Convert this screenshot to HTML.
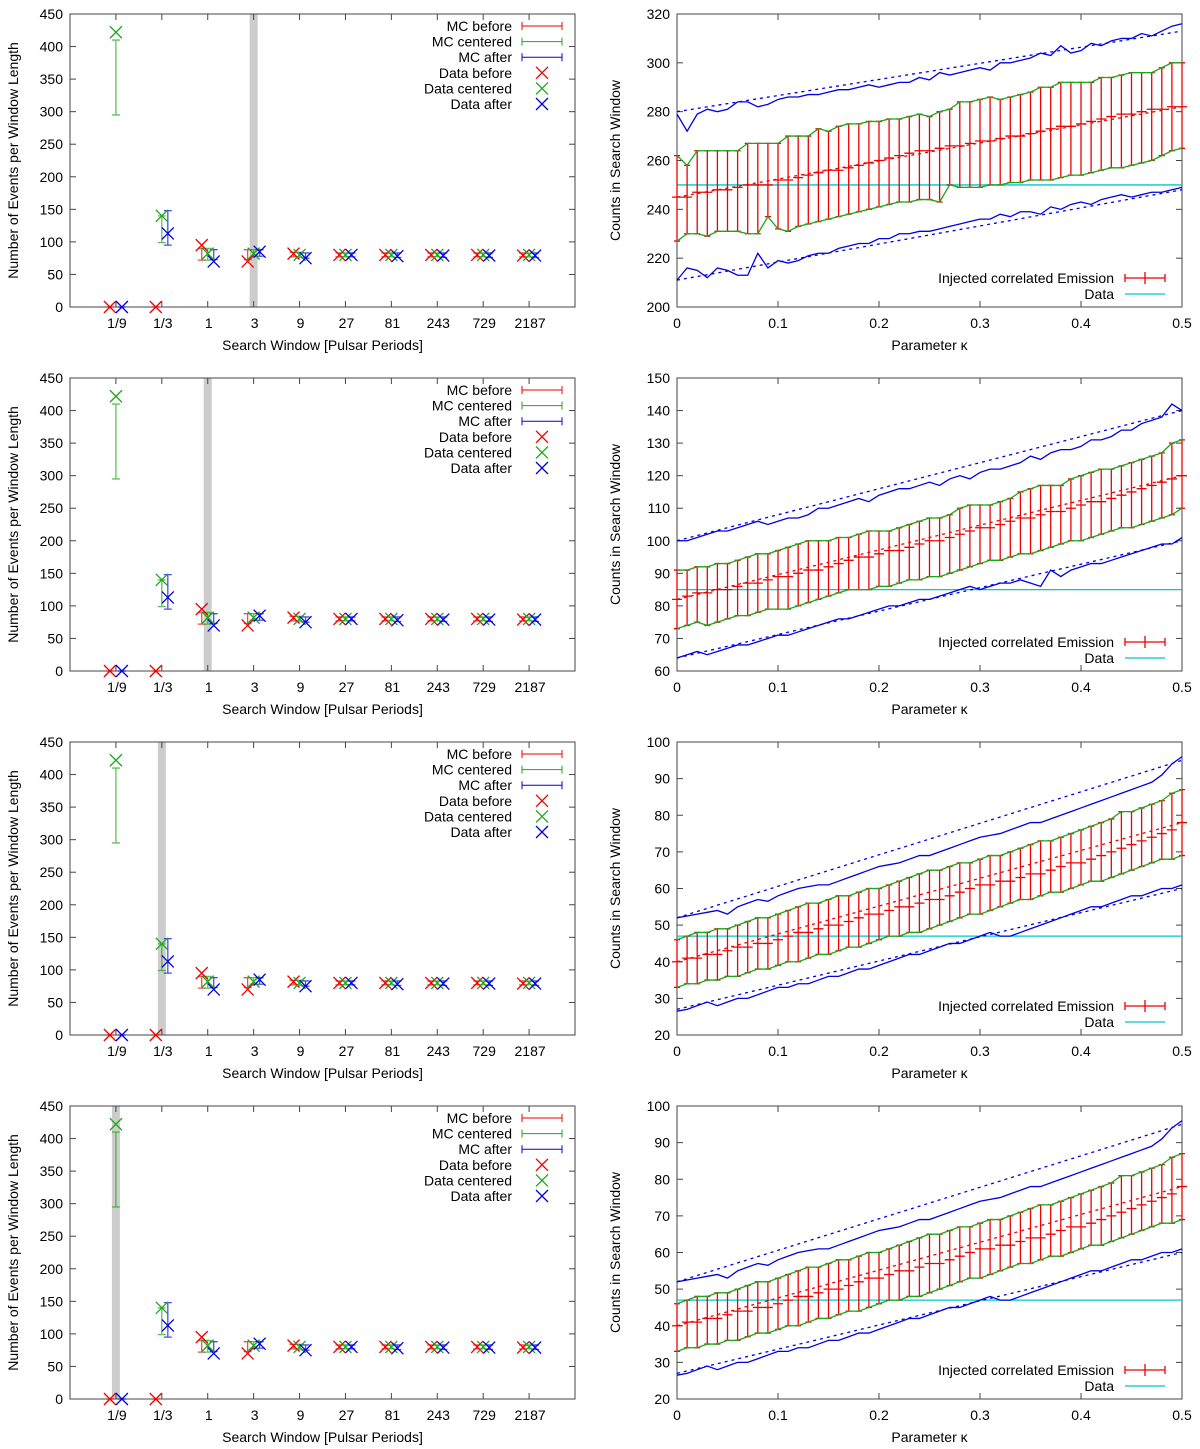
<!DOCTYPE html>
<html><head><meta charset="utf-8"><style>
body{margin:0;background:#fff}
svg{display:block;font-family:"Liberation Sans",sans-serif;font-size:14px}
</style></head><body>
<svg id="s" width="1200" height="1449" xmlns="http://www.w3.org/2000/svg"></svg>
<script>
const cats=["1/9","1/3","1","3","9","27","81","243","729","2187"];
const mcBeforeVal=[0,0,80,78,80,80,80,80,80,80];
const mcBeforeLo=[0,0,72,73,77,77,77,77,77,77];
const mcBeforeHi=[0,0,90,88,84,83,83,83,83,83];
const mcCenterVal=[352,120,81,82,80,80,80,80,80,80];
const mcCenterLo=[295,99,72,78,76,77,77,77,77,77];
const mcCenterHi=[410,140,90,88,84,83,83,83,83,83];
const mcAfterVal=[0,122,80,82,79,80,79,79,79,79];
const mcAfterLo=[0,95,73,78,75,77,76,76,76,76];
const mcAfterHi=[0,148,88,88,83,83,83,83,83,83];
const dataBefore=[0,0,95,70,82,80,80,80,80,79];
const dataCenter=[422,140,82,82,80,80,80,80,80,80];
const dataAfter=[0,113,70,85,75,80,78,79,79,79];
const bandCat=[3,2,1,0];
const leftTicks=[0,50,100,150,200,250,300,350,400,450];

const c1=[245,245,247,247,248,248,249,250,250,250,252,252,253,254,255,256,256,257,258,259,260,261,262,263,264,264,265,266,266,267,268,268,269,270,270,271,272,273,274,274,275,276,277,278,279,279,280,281,281,282,282];
const u1=[262,258,264,264,264,264,264,267,267,267,267,270,270,270,273,272,274,275,275,276,276,277,277,278,279,278,280,281,284,284,285,286,285,286,287,288,290,290,292,292,292,292,294,294,295,296,296,296,298,300,300];
const l1=[227,230,230,229,231,231,231,230,230,237,232,231,233,234,235,236,237,238,239,240,241,242,243,243,244,244,243,250,249,249,249,250,250,251,251,252,252,252,253,254,254,255,256,257,257,258,259,260,262,264,265];
const bu1=[279,272,279,281,280,281,284,284,282,283,285,286,286,287,287,288,289,289,290,291,290,291,292,292,294,293,296,295,296,297,298,297,300,300,301,302,304,303,307,304,305,308,307,309,310,310,312,311,313,315,316];
const bl1=[211,216,215,212,216,215,213,213,222,216,219,218,219,221,222,222,224,225,226,226,228,228,230,230,231,231,232,233,234,235,236,236,238,237,239,239,238,241,240,242,243,242,244,245,246,245,246,247,247,248,249];
const c2=[82,83,84,84,85,85,86,87,87,88,89,89,90,91,91,92,93,94,95,95,96,97,97,98,99,100,100,101,102,103,104,104,105,106,107,107,108,109,109,110,111,112,112,113,114,115,116,117,118,119,120];
const u2=[91,91,92,92,93,93,94,95,96,96,97,98,99,100,100,100,101,101,102,103,103,103,104,105,106,107,107,108,110,111,111,111,112,113,115,116,117,117,117,119,120,121,122,122,123,124,125,126,127,130,131];
const l2=[73,74,75,74,75,76,77,77,78,79,79,79,80,81,82,83,84,85,85,85,86,86,87,88,88,89,89,90,91,92,93,94,94,95,96,96,97,98,99,100,100,101,102,103,104,104,105,106,107,108,110];
const bu2=[100,100,101,102,103,103,104,105,106,105,106,107,107,108,110,110,111,112,113,112,114,115,116,116,117,118,117,119,120,119,121,122,122,123,124,126,125,127,128,128,129,131,131,132,134,134,136,137,138,142,140];
const bl2=[64,65,66,65,66,67,68,68,69,70,71,71,72,73,74,75,76,76,77,78,79,80,80,81,82,82,83,84,85,86,85,86,87,87,88,87,86,91,89,91,92,93,93,94,95,96,97,98,99,99,101];
const c3=[40,41,41,42,42,43,44,44,45,45,46,47,48,48,49,50,50,51,52,53,53,54,55,55,56,57,57,58,59,60,61,61,62,62,63,64,64,65,66,67,67,68,69,70,71,72,73,74,75,76,78];
const u3=[46,47,48,48,49,49,50,51,52,52,53,54,55,56,56,57,58,58,59,60,60,61,62,63,64,65,65,66,67,67,68,69,69,70,71,72,73,73,74,75,76,77,78,79,81,81,82,83,84,86,87];
const l3=[33,34,34,35,35,36,36,37,38,38,39,40,40,41,42,42,43,44,44,45,46,47,47,48,48,49,50,51,52,53,53,54,55,56,57,57,58,59,59,60,61,62,62,63,64,65,66,67,68,68,69];
const bu3=[52,52.5,53,53.5,54,53,55,56,57,56.5,58,59,60,60.5,61,61,62,63,64,65,66,66.5,67,68,69,69,70,71,72,73,74,74.5,75,76,77,78,78,79,80,81,82,83,84,85,86,87,88,89,91,94,96];
const bl3=[26.5,27,28,29,28,29,30,30,31,32,33,33,34,34,35,36,36,37,38,38,39,40,41,42,42,43,44,45,45,46,47,48,47,47,48,49,50,51,52,53,54,55,55,56,57,58,58,59,60,60,61];
const fitsUp=[[280,313],[100,140],[52,95]];
const fitsLo=[[211,248],[64,100],[27,60]];
const fitsC=[[245,282],[82,120],[40,78]];
const dataLine=[250,85,47,47];
const rightYMin=[200,60,20,20], rightYMax=[320,150,100,100], rightYStep=[20,10,10,10];
const kTicks=[0,0.1,0.2,0.3,0.4,0.5];

const S=document.getElementById('s');const NS="http://www.w3.org/2000/svg";
function el(t,a,txt){const e=document.createElementNS(NS,t);for(const k in a)e.setAttribute(k,a[k]);if(txt!==undefined)e.textContent=txt;S.appendChild(e);return e;}
function line(x1,y1,x2,y2,c,w,extra){return el('line',Object.assign({x1,y1,x2,y2,stroke:c,'stroke-width':w||1},extra||{}));}
const RED="#e00",GRN="#1aa81a",BLU="#0000e0",CYN="#00c8c8";
function cross(x,y,c,name){const r=6;const g=el('path',{d:`M${x-r} ${y-r}L${x+r} ${y+r}M${x-r} ${y+r}L${x+r} ${y-r}`,stroke:c,'stroke-width':1.3,fill:'none'});}
function ebar(x,lo,hi,mid,c,name){const g=el('path',{d:`M${x} ${lo}L${x} ${hi}M${x-4} ${lo}L${x+4} ${lo}M${x-4} ${hi}L${x+4} ${hi}`,stroke:c,'stroke-width':1.3,fill:'none',opacity:0.7});}

for(let r=0;r<4;r++){
 const T=14+364*r,B=T+293,L=70,R=575;
 const X=i=>L+(i+1)*(R-L)/11, Y=v=>B-v/450*(B-T);
 const bx=X(bandCat[r]);
 const band=el('rect',{x:bx-4,y:T,width:8,height:B-T,fill:'#ccc'});
 
 const fr=el('rect',{x:L,y:T,width:R-L,height:B-T,fill:'none',stroke:'#444','stroke-width':1});
 
 leftTicks.forEach(v=>{const y=Y(v);line(L,y,L+6,y,'#444');line(R,y,R-6,y,'#444');
  const t=el('text',{x:L-7,y:y+5,'text-anchor':'end'},v);});
 cats.forEach((c,i)=>{const x=X(i);line(x,B,x,B-6,'#444');line(x,T,x,T+6,'#444');
  const t=el('text',{x:x+1,y:B+21,'text-anchor':'middle'},c);
  ebar(x-6,Y(mcBeforeLo[i]),Y(mcBeforeHi[i]),Y(mcBeforeVal[i]),RED,'mc-before-errorbar');
  ebar(x,Y(mcCenterLo[i]),Y(mcCenterHi[i]),Y(mcCenterVal[i]),GRN,'mc-centered-errorbar');
  ebar(x+6,Y(mcAfterLo[i]),Y(mcAfterHi[i]),Y(mcAfterVal[i]),BLU,'mc-after-errorbar');
  cross(x-6,Y(dataBefore[i]),RED,'data-before-point');
  cross(x,Y(dataCenter[i]),GRN,'data-centered-point');
  cross(x+6,Y(dataAfter[i]),BLU,'data-after-point');
 });
 let t=el('text',{x:(L+R)/2,y:B+43,'text-anchor':'middle'},'Search Window [Pulsar Periods]');
 t=el('text',{x:0,y:0,'text-anchor':'middle',transform:`translate(18,${(T+B)/2}) rotate(-90)`},'Number of Events per Window Length');
 const leg=[["MC before",RED,0],["MC centered",GRN,0],["MC after",BLU,0],["Data before",RED,1],["Data centered",GRN,1],["Data after",BLU,1]];
 leg.forEach((e,k)=>{const y=T+12+k*15.6;const tx=el('text',{x:512,y:y+5,'text-anchor':'end'},e[0]);
  if(e[2]==0){el('path',{d:`M522 ${y}L562 ${y}M522 ${y-4}L522 ${y+4}M562 ${y-4}L562 ${y+4}`,stroke:e[1],'stroke-width':1,fill:'none'});}
  else cross(542,y,e[1],'legend-marker');});

 const RL=677,RR=1182,ymin=rightYMin[r],ymax=rightYMax[r];
 const RX=v=>RL+v/0.5*(RR-RL),RY=v=>B-(v-ymin)/(ymax-ymin)*(B-T);
 const d=r==0?0:r==1?1:2;
 const C=[c1,c2,c3][d],U=[u1,u2,u3][d],Lo=[l1,l2,l3][d],BU=[bu1,bu2,bu3][d],BL=[bl1,bl2,bl3][d];
 const fr2=el('rect',{x:RL,y:T,width:RR-RL,height:B-T,fill:'none',stroke:'#444'});
 
 for(let v=ymin;v<=ymax+1e-9;v+=rightYStep[r]){const y=RY(v);line(RL,y,RL+6,y,'#444');line(RR,y,RR-6,y,'#444');
  const tt=el('text',{x:RL-7,y:y+5,'text-anchor':'end'},v);}
 kTicks.forEach(v=>{const x=RX(v);line(x,B,x,B-6,'#444');line(x,T,x,T+6,'#444');
  const tt=el('text',{x:x,y:B+21,'text-anchor':'middle'},v);});
 const dl=line(RL,RY(dataLine[r]),RR,RY(dataLine[r]),CYN,1.3);
 const pts=a=>a.map((v,i)=>RX(i*0.01)+','+RY(v)).join(' ');
 C.forEach((v,i)=>{const x=RX(i*0.01);const p=el('path',{d:`M${x} ${RY(Lo[i])}L${x} ${RY(U[i])}M${x-3} ${RY(Lo[i])}L${x+3} ${RY(Lo[i])}M${x-3} ${RY(U[i])}L${x+3} ${RY(U[i])}M${x-5} ${RY(v)}L${x+5} ${RY(v)}`,stroke:RED,'stroke-width':1.3,fill:'none'});});
 [U,Lo].forEach(a=>{const p=el('polyline',{points:pts(a),fill:'none',stroke:GRN,'stroke-width':1.3});});
 [BU,BL].forEach(a=>{const p=el('polyline',{points:pts(a),fill:'none',stroke:BLU,'stroke-width':1.3});});
 [[fitsUp[d],BLU],[fitsLo[d],BLU],[fitsC[d],RED]].forEach(f=>{const p=line(RX(0),RY(f[0][0]),RX(0.5),RY(f[0][1]),f[1],1.3,{'stroke-dasharray':'3,4'});});
 t=el('text',{x:(RL+RR)/2,y:B+43,'text-anchor':'middle'},'Parameter κ');
 t=el('text',{x:0,y:0,'text-anchor':'middle',transform:`translate(620,${(T+B)/2}) rotate(-90)`},'Counts in Search Window');
 const ly=T+264;
 t=el('text',{x:1114,y:ly+5,'text-anchor':'end'},'Injected correlated Emission');
 el('path',{d:`M1125 ${ly}L1165 ${ly}M1125 ${ly-4}L1125 ${ly+4}M1165 ${ly-4}L1165 ${ly+4}M1145 ${ly-6}L1145 ${ly+6}`,stroke:RED,'stroke-width':1.3,fill:'none'});
 t=el('text',{x:1114,y:ly+21,'text-anchor':'end'},'Data');
 line(1125,ly+16,1165,ly+16,CYN,1.3);
}
</script>
</body></html>
